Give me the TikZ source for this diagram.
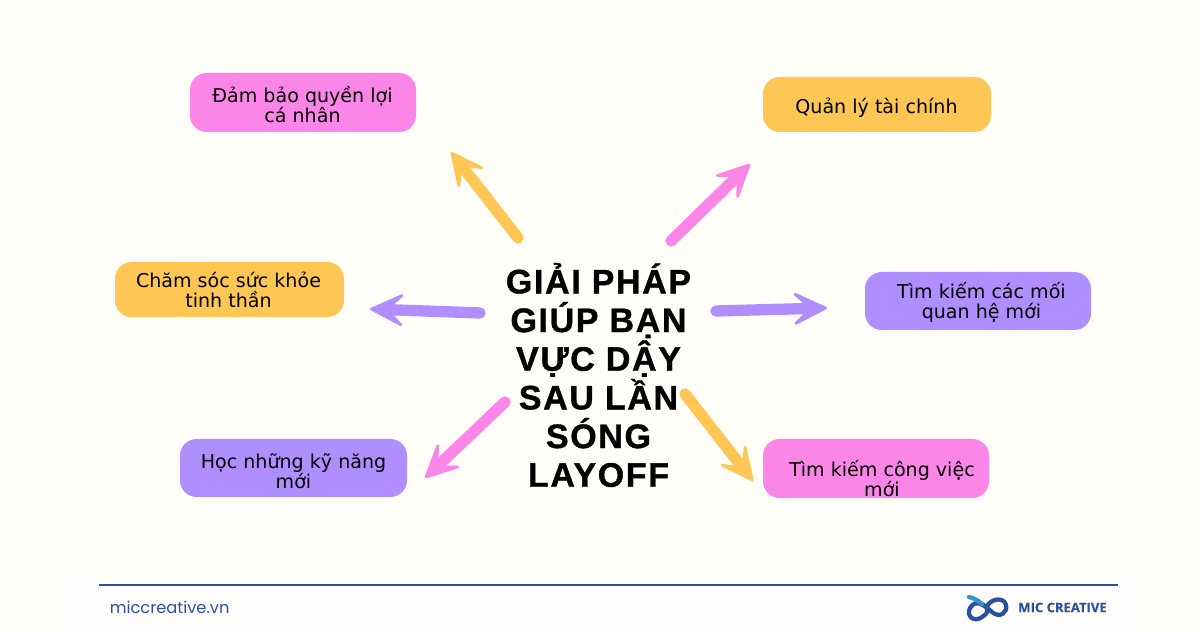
\documentclass[tikz,border=0pt]{standalone}
\usepackage{fontspec}
\setmainfont{DejaVu Sans}
\newfontfamily\titlefont[LetterSpace=4.8,BoldFeatures={FakeBold=1}]{Liberation Sans}
\newfontfamily\sitefont{Poppins}
\newfontfamily\logofont[BoldFeatures={FakeBold=0.2}]{Open Sans}
\usetikzlibrary{arrows.meta}
\definecolor{paper}{RGB}{255,254,248}
\definecolor{pinkbox}{RGB}{252,134,232}
\definecolor{yellowbox}{RGB}{254,198,84}
\definecolor{purplebox}{RGB}{176,142,255}
\definecolor{micblue}{RGB}{44,80,160}
\tikzset{
  solutionbox/.style={rounded corners=12.5pt,inner sep=0pt},
  solutionlabel/.style={inner sep=0pt,align=center,text=black,font=\fontsize{14.3pt}{15pt}\selectfont},
  brusharrow/.style={line width=8.5pt,line cap=round,
    -{Stealth[length=30pt,width=29pt,inset=15pt,round,line width=2pt]}},
}
\begin{document}
\begin{tikzpicture}[x=0.75pt,y=0.75pt,yscale=-1,xscale=1]
    \fill [paper] (0,0) rectangle (1200,630);
    \fill [white!60!paper] (62,576) rectangle (1138,630);

    % solution boxes
    \node (rights) [solutionbox,fill=pinkbox,minimum width=226*0.75pt,minimum height=59*0.75pt] at (303,102.5) {};
    \node (money) [solutionbox,fill=yellowbox,minimum width=228*0.75pt,minimum height=55*0.75pt] at (877,104.5) {};
    \node (health) [solutionbox,fill=yellowbox,minimum width=229*0.75pt,minimum height=55*0.75pt] at (229.5,289.5) {};
    \node (network) [solutionbox,fill=purplebox,minimum width=226*0.75pt,minimum height=58*0.75pt] at (978,301) {};
    \node (skills) [solutionbox,fill=purplebox,minimum width=227*0.75pt,minimum height=58*0.75pt] at (293.5,468) {};
    \node (job) [solutionbox,fill=pinkbox,minimum width=226*0.75pt,minimum height=59*0.75pt] at (876,468.5) {};

    % box labels
    \node (rightstext) [solutionlabel] at (302.5,104.5) {Đảm bảo quyền lợi\\cá nhân};
    \node (moneytext) [solutionlabel] at (876.5,107.5) {Quản lý tài chính};
    \node (healthtext) [solutionlabel] at (228.5,289.5) {Chăm sóc sức khỏe\\tinh thần};
    \node (networktext) [solutionlabel] at (981.5,302.5) {Tìm kiếm các mối\\quan hệ mới};
    \node (skillstext) [solutionlabel] at (293.5,471) {Học những kỹ năng\\mới};
    \node (jobtext) [solutionlabel] at (882,478.5) {Tìm kiếm công việc\\mới};

    % centre title
    \node (title) [align=center,inner sep=0pt,font=\titlefont\bfseries\fontsize{25.5pt}{29pt}\selectfont] at (598.5,375) {GIẢI PHÁP\\GIÚP BẠN\\VỰC DẬY\\SAU LẦN\\SÓNG\\LAYOFF};

    % arrow ends
    \coordinate (a1s) at (518,238);
    \coordinate (a1e) at (451,152);
    \coordinate (a2s) at (480,313);
    \coordinate (a2e) at (370,309);
    \coordinate (a3s) at (671,241);
    \coordinate (a3e) at (750,164);
    \coordinate (a4s) at (716,311);
    \coordinate (a4e) at (827,308);
    \coordinate (a5s) at (505,402);
    \coordinate (a5e) at (425,478);
    \coordinate (a6s) at (685,394);
    \coordinate (a6e) at (753,481);

    \draw [brusharrow,yellowbox] (a1s) -- (a1e);
    \draw [brusharrow,purplebox] (a2s) -- (a2e);
    \draw [brusharrow,pinkbox] (a3s) -- (a3e);
    \draw [brusharrow,purplebox] (a4s) -- (a4e);
    \draw [brusharrow,pinkbox] (a5s) -- (a5e);
    \draw [brusharrow,yellowbox] (a6s) -- (a6e);

    % footer
    \coordinate (ruleleft) at (99,585);
    \coordinate (ruleright) at (1118,585);
    \draw [micblue,line width=1.3pt] (ruleleft) -- (ruleright);
    \node (site) [anchor=west,inner sep=0pt,text=micblue,font=\sitefont\fontsize{12.2pt}{14pt}\selectfont] at (109.5,607) {miccreative.vn};
    \node (brand) [anchor=west,inner sep=0pt,text=micblue,font=\logofont\bfseries\fontsize{9.8pt}{11pt}\selectfont] at (1018,607.5) {MIC CREATIVE};

    % logo
    \draw [micblue,line width=3.2pt,line cap=round] (982,604) .. controls (989,608) and (990,612) .. (982,617) .. controls (974,623) and (966,616) .. (970,608) .. controls (976,598) and (985,606) .. (992,612) .. controls (1000,619) and (1008,612) .. (1006,605) .. controls (1004,597) and (992,598) .. (987,606);
    \draw [cyan!60!micblue,line width=3.2pt,line cap=round] (969,597) .. controls (974,598) and (979,601) .. (982,604);
\end{tikzpicture}
\end{document}
